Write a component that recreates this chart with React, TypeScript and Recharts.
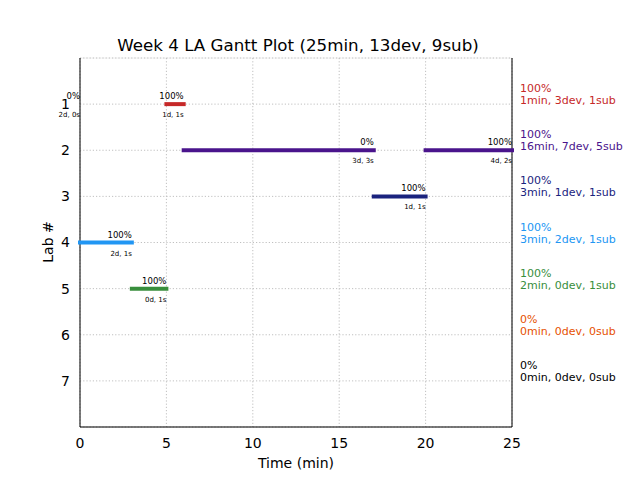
import { ScatterChart, Scatter, XAxis, YAxis, CartesianGrid } from 'recharts'

// per-lab summary shown on the right
const LABS = [1, 2, 3, 4, 5, 6, 7]
const LAB_PCT = ['100%', '100%', '100%', '100%', '100%', '0%', '0%']
const LAB_SUMMARY = [
  '1min, 3dev, 1sub',
  '16min, 7dev, 5sub',
  '3min, 1dev, 1sub',
  '3min, 2dev, 1sub',
  '2min, 0dev, 1sub',
  '0min, 0dev, 0sub',
  '0min, 0dev, 0sub',
]
const LAB_COLORS = ['#c62828', '#4a148c', '#1a237e', '#2196f3', '#388e3c', '#e65100', '#000000']

// gantt segments
const SEG_LAB = [1, 1, 2, 2, 3, 4, 5]
const SEG_START = [0, 5, 6, 20, 17, 0, 3]
const SEG_END = [0, 6, 17, 25, 20, 3, 5]
const SEG_PCT = ['0%', '100%', '0%', '100%', '100%', '100%', '100%']
const SEG_NOTE = ['2d, 0s', '1d, 1s', '3d, 3s', '4d, 2s', '1d, 1s', '2d, 1s', '0d, 1s']

const X_MAX = 25
const X_TICKS = [0, 5, 10, 15, 20, 25]
const MINOR_X = Array.from({ length: 26 }, (_, i) => i)
const MINOR_Y = Array.from({ length: 41 }, (_, i) => i * 0.2)

const FONT = 'DejaVu Sans, sans-serif'

const segments = SEG_LAB.map((lab, i) => ({
  id: i,
  color: LAB_COLORS[lab - 1],
  data: [
    { x: SEG_START[i], y: lab, end: false, pct: SEG_PCT[i], note: SEG_NOTE[i] },
    { x: SEG_END[i], y: lab, end: true, pct: SEG_PCT[i], note: SEG_NOTE[i] },
  ],
}))

// summary points anchored at the right edge of the plot
const summary = LABS.map((lab, i) => ({
  x: X_MAX,
  y: lab,
  pct: LAB_PCT[i],
  text: LAB_SUMMARY[i],
  color: LAB_COLORS[i],
}))

const SegLabel = (props: any) => {
  const { cx, cy, payload } = props
  if (!payload || !payload.end) return <g />
  return (
    <g>
      <text x={cx} y={cy - 5} textAnchor="end" fontSize={8.5} fontFamily={FONT} fill="#000">
        {payload.pct}
      </text>
      <text x={cx} y={cy + 13} textAnchor="end" fontSize={7} fontFamily={FONT} fill="#000">
        {payload.note}
      </text>
    </g>
  )
}

const SummaryLabel = (props: any) => {
  const { cx, cy, payload } = props
  if (!payload) return <g />
  return (
    <g>
      <text x={cx + 8} y={cy - 12} fontSize={11} fontFamily={FONT} fill={payload.color}>
        {payload.pct}
      </text>
      <text x={cx + 8} y={cy} fontSize={11} fontFamily={FONT} fill={payload.color}>
        {payload.text}
      </text>
    </g>
  )
}

export default function App() {
  return (
    <div style={{ position: 'absolute', left: 0, top: 0, width: 640, height: 480, background: '#fff' }}>
      <ScatterChart width={640} height={480} margin={{ top: 58, right: 0, bottom: 0, left: 0 }}>
        <XAxis xAxisId="minor" type="number" domain={[0, 25]} ticks={MINOR_X} height={0} hide />
        <YAxis yAxisId="minor" type="number" domain={[0, 8]} ticks={MINOR_Y} reversed width={0} hide />
        <CartesianGrid xAxisId="minor" yAxisId="minor" stroke="#efefef" strokeWidth={0.8} />
        <CartesianGrid xAxisId="x" yAxisId="y" stroke="#b0b0b0" strokeWidth={0.8} strokeDasharray="1.2 2" />
        <XAxis
          xAxisId="x"
          type="number"
          dataKey="x"
          domain={[0, 25]}
          ticks={X_TICKS}
          height={53}
          tickLine={false}
          tickSize={5}
          tickMargin={6}
          axisLine={{ stroke: '#000', strokeWidth: 1 }}
          tick={{ fontSize: 14, fill: '#000', fontFamily: FONT }}
        />
        <XAxis
          xAxisId="top"
          orientation="top"
          type="number"
          domain={[0, 25]}
          height={0}
          tick={false}
          tickLine={false}
          axisLine={{ stroke: '#000', strokeWidth: 1 }}
        />
        <YAxis
          yAxisId="y"
          type="number"
          dataKey="y"
          domain={[0, 8]}
          ticks={LABS}
          reversed
          width={80}
          tickLine={false}
          tickSize={5}
          tickMargin={5}
          axisLine={{ stroke: '#000', strokeWidth: 1 }}
          tick={{ fontSize: 14, fill: '#000', fontFamily: FONT }}
        />
        <YAxis
          yAxisId="right"
          orientation="right"
          type="number"
          domain={[0, 8]}
          reversed
          width={128}
          tick={false}
          tickLine={false}
          axisLine={{ stroke: '#000', strokeWidth: 1 }}
        />
        {segments.map((s) => (
          <Scatter
            key={s.id}
            xAxisId="x"
            yAxisId="y"
            data={s.data}
            line={s.data[0].x < s.data[1].x ? { stroke: s.color, strokeWidth: 4, strokeLinecap: 'square' } : false}
            shape={<SegLabel />}
            legendType="none"
            isAnimationActive={false}
          />
        ))}
        <Scatter
          xAxisId="x"
          yAxisId="y"
          data={summary}
          shape={<SummaryLabel />}
          legendType="none"
          isAnimationActive={false}
        />
      </ScatterChart>
      <svg width={640} height={480} style={{ position: 'absolute', left: 0, top: 0, pointerEvents: 'none' }}>
        <text x={298} y={51} textAnchor="middle" fontSize={16.7} fontFamily={FONT} fill="#000">
          Week 4 LA Gantt Plot (25min, 13dev, 9sub)
        </text>
        <text x={296} y={468} textAnchor="middle" fontSize={14} fontFamily={FONT} fill="#000">
          Time (min)
        </text>
        <text
          x={53}
          y={242}
          textAnchor="middle"
          fontSize={14}
          fontFamily={FONT}
          fill="#000"
          transform="rotate(-90 53 242)"
        >
          Lab #
        </text>
      </svg>
    </div>
  )
}
